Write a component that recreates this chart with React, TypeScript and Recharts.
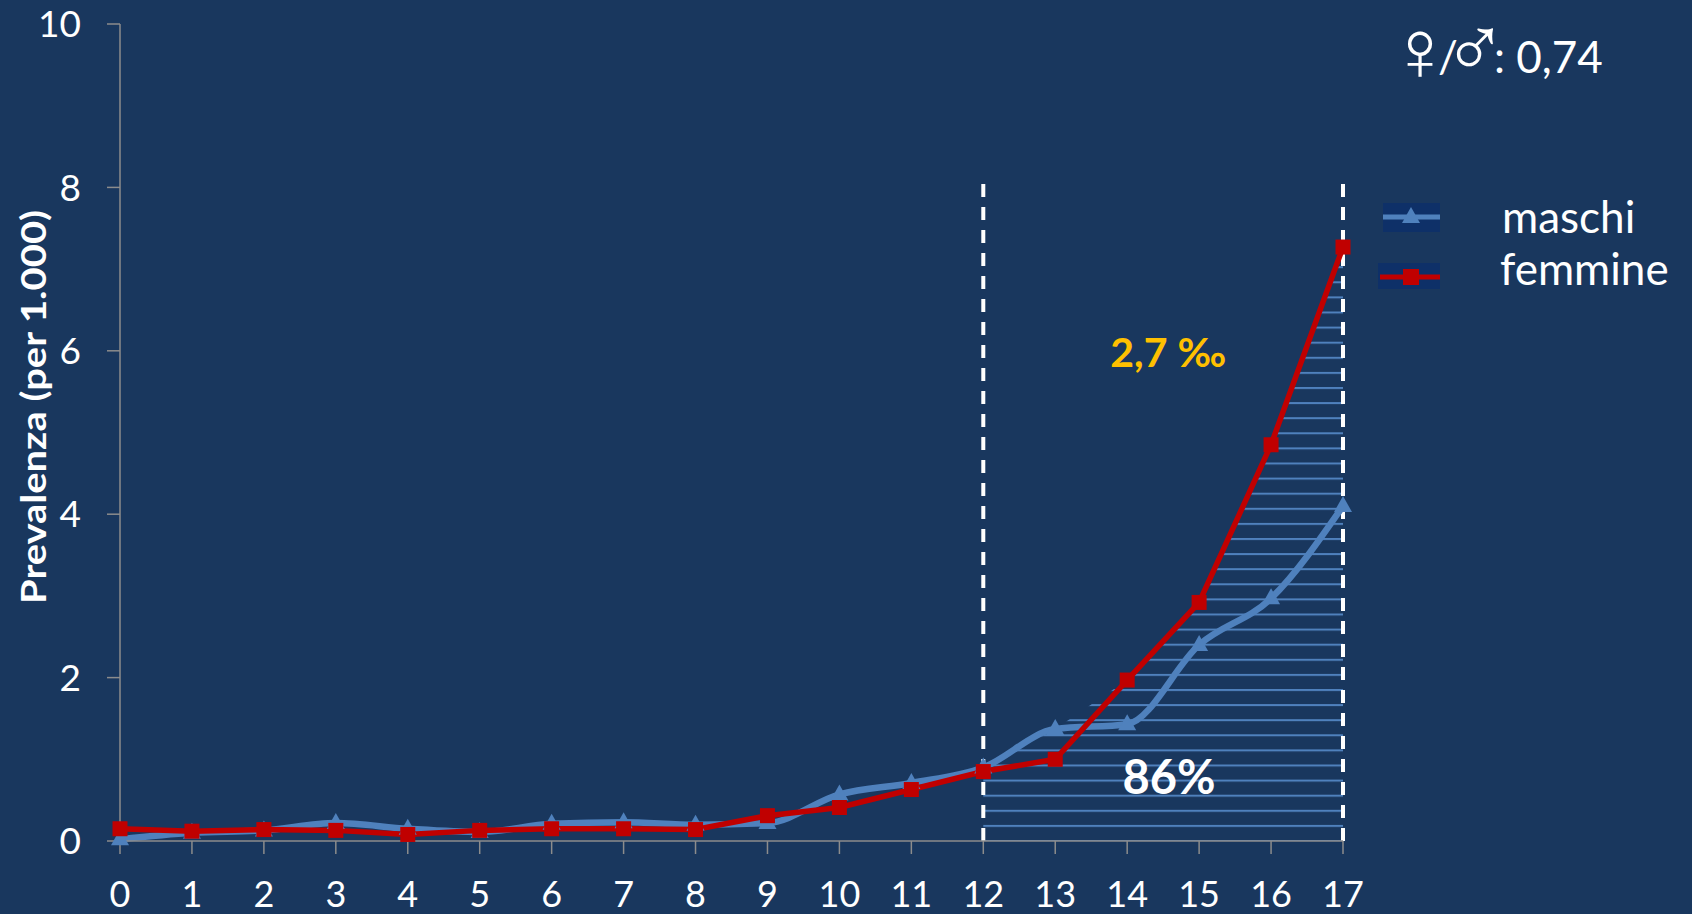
import { ComposedChart, Line, Area, XAxis, YAxis, ReferenceLine, ReferenceDot } from 'recharts'

const ages = [0, 1, 2, 3, 4, 5, 6, 7, 8, 9, 10, 11, 12, 13, 14, 15, 16, 17]
const maschi = [0.02, 0.1, 0.13, 0.22, 0.15, 0.11, 0.21, 0.23, 0.2, 0.22, 0.57, 0.71, 0.9, 1.37, 1.43, 2.4, 2.97, 4.1]
const femmine = [0.15, 0.12, 0.14, 0.13, 0.08, 0.13, 0.15, 0.15, 0.14, 0.31, 0.41, 0.63, 0.85, 1.0, 1.97, 2.92, 4.85, 7.27]
const xTicks = ages
const yTicks = [0, 2, 4, 6, 8, 10]
const windowStart = 12
const windowEnd = 17
const windowTop = 8.1

const BG = '#19375e'
const BLUE = '#4f81bd'
const RED = '#c00000'
const AXIS = '#8c8c8c'
const FONT = 'Lato, "Open Sans", sans-serif'
const SYMBOL_FONT = '"DejaVu Sans", sans-serif'

const data = ages.map((age, i) => ({
  age,
  maschi: maschi[i],
  femmine: femmine[i],
  hatch: age >= windowStart ? Math.max(maschi[i], femmine[i]) : null,
}))

function SquareDot(props: any) {
  const { cx, cy, index } = props
  if (cx == null || cy == null) return null
  return <rect key={`sq-${index}`} x={cx - 7.5} y={cy - 7.5} width={15} height={15} fill={RED} />
}

function TriangleDot(props: any) {
  const { cx, cy, index } = props
  if (cx == null || cy == null) return null
  return (
    <polygon
      key={`tr-${index}`}
      points={`${cx},${cy - 10} ${cx - 9},${cy + 6} ${cx + 9},${cy + 6}`}
      fill={BLUE}
    />
  )
}

function YLabel() {
  const cy = 407
  return (
    <text
      x={32}
      y={cy}
      transform={`rotate(-90, 32, ${cy})`}
      textAnchor="middle"
      dominantBaseline="central"
      fill="#fff"
      fontFamily={FONT}
      fontWeight={700}
      fontSize={34}
      textLength={394}
      lengthAdjust="spacingAndGlyphs"
    >
      Prevalenza (per 1.000)
    </text>
  )
}

function LegendOverlay() {
  const sym = { fontFamily: SYMBOL_FONT, fontSize: 86, fontWeight: 200 }
  return (
    <svg
      width={1692}
      height={914}
      style={{ position: 'absolute', left: 0, top: 0, pointerEvents: 'none' }}
    >
      <text fill="#fff" fontFamily={FONT} fontSize={44}>
        <tspan x={1420} y={80} textAnchor="middle" style={sym}>♀</tspan>
        <tspan x={1448} y={73} textAnchor="middle">/</tspan>
        <tspan x={1475} y={77} textAnchor="middle" style={sym}>♂</tspan>
        <tspan x={1494} y={73}>: 0,74</tspan>
      </text>
      <rect x={1383} y={203} width={57} height={29} fill="#0e3068" />
      <line x1={1383} y1={217} x2={1440} y2={217} stroke={BLUE} strokeWidth={5} />
      <polygon points="1411,207 1402,223 1420,223" fill={BLUE} />
      <rect x={1378} y={263} width={62} height={26} fill="#0e3068" />
      <line x1={1380} y1={277} x2={1440} y2={277} stroke={RED} strokeWidth={5} />
      <rect x={1403} y={269} width={16} height={16} fill={RED} />
      <text x={1502} y={233} fill="#fff" fontFamily={FONT} fontSize={44}>
        maschi
      </text>
      <text x={1500} y={285} fill="#fff" fontFamily={FONT} fontSize={44}>
        femmine
      </text>
    </svg>
  )
}

export default function App() {
  return (
    <div style={{ position: 'absolute', left: 0, top: 0, width: 1692, height: 914, background: BG }}>
      <ComposedChart
        width={1692}
        height={914}
        data={data}
        margin={{ top: 24, right: 349, bottom: 0, left: 0 }}
      >
        <defs>
          <pattern id="hatch" patternUnits="userSpaceOnUse" width={20} height={15.1} x={0} y={840}>
            <line x1={0} y1={1} x2={20} y2={1} stroke={BLUE} strokeWidth={2} />
          </pattern>
        </defs>
        <XAxis
          dataKey="age"
          type="number"
          domain={[0, 17]}
          ticks={xTicks}
          interval={0}
          height={73}
          stroke={AXIS}
          strokeWidth={1.5}
          tickSize={13}
          tickMargin={27}
          tick={{ fill: '#fff', fontSize: 36, fontFamily: FONT }}
        />
        <YAxis
          type="number"
          domain={[0, 10]}
          ticks={yTicks}
          width={120}
          stroke={AXIS}
          strokeWidth={1.5}
          tickSize={13}
          tickMargin={26}
          tick={{ fill: '#fff', fontSize: 37, fontFamily: FONT }}
          label={<YLabel />}
        />
        <Area
          dataKey="hatch"
          type="linear"
          stroke="none"
          fill="url(#hatch)"
          fillOpacity={1}
          baseValue={0}
          isAnimationActive={false}
          activeDot={false}
        />
        <ReferenceLine
          segment={[{ x: windowStart, y: 0 }, { x: windowStart, y: windowTop }]}
          stroke="#fff"
          strokeWidth={4}
          strokeDasharray="13 10"
        />
        <ReferenceLine
          segment={[{ x: windowEnd, y: 0 }, { x: windowEnd, y: windowTop }]}
          stroke="#fff"
          strokeWidth={4}
          strokeDasharray="13 10"
        />
        <Line
          dataKey="maschi"
          type="monotone"
          stroke={BLUE}
          strokeWidth={6.5}
          dot={<TriangleDot />}
          activeDot={false}
          isAnimationActive={false}
        />
        <Line
          dataKey="femmine"
          type="linear"
          stroke={RED}
          strokeWidth={5.5}
          dot={<SquareDot />}
          activeDot={false}
          isAnimationActive={false}
        />
        <ReferenceDot
          x={14.57}
          y={5.98}
          r={0}
          fill="none"
          stroke="none"
          label={{ value: '2,7 ‰', position: 'center', fill: '#ffc000', fontSize: 41, fontWeight: 700, fontFamily: FONT }}
        />
        <ReferenceDot
          x={14.58}
          y={0.78}
          r={0}
          fill="none"
          stroke="none"
          label={{ value: '86%', position: 'center', fill: '#fff', fontSize: 47, fontWeight: 700, fontFamily: FONT }}
        />
      </ComposedChart>
      <LegendOverlay />
    </div>
  )
}
